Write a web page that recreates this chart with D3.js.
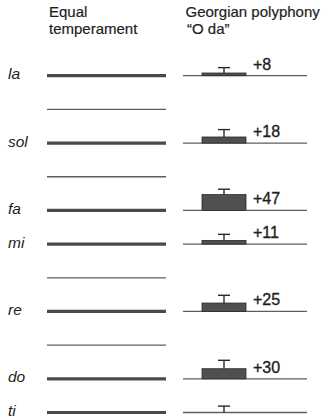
<!DOCTYPE html>
<html>
<head>
<meta charset="utf-8">
<script src="https://cdn.jsdelivr.net/npm/d3@7"></script>
<style>
  html, body { margin: 0; padding: 0; background: #fff; }
  svg { display: block; }
  text { font-family: "Liberation Sans", Arial, Helvetica, sans-serif; fill: #1e1e1e; }
</style>
</head>
<body>
<svg id="chart" width="328" height="420"></svg>
<script>
// Notes of the scale (cents above ti) and Georgian deviations (cents)
const notes = ["ti", "do", "re", "mi", "fa", "sol", "la"];
const noteCents = [0, 100, 300, 500, 600, 800, 1000];
const semitoneCents = [200, 400, 700, 900];
const deviation = [0, 30, 25, 11, 47, 18, 8];
const errorCents = [19, 25, 23, 18, 16, 22, 16];
const deviationLabels = ["", "+30", "+25", "+11", "+47", "+18", "+8"];
const headerLeft = ["Equal", "temperament"];
const headerRight = ["Georgian polyphony", "\u201CO da\u201D"];

const svg = d3.select("#chart");
const y = d3.scaleLinear().domain([0, 1000]).range([412.5, 75.7]);
const xLeft = d3.scaleLinear().domain([0, 1]).range([47, 166]);
const xRight = d3.scaleLinear().domain([0, 1]).range([183, 307]);
const xBar = d3.scaleBand().domain(["bar"]).range([202, 246]);

// Header
svg.selectAll("text.hl").data(headerLeft).join("text")
  .attr("class", "hl")
  .attr("x", 49).attr("y", (d, i) => 17.2 + i * 16.8)
  .style("font-size", "15px").style("stroke", "#1e1e1e").style("stroke-width", 0.2)
  .text(d => d);
svg.selectAll("text.hr").data(headerRight).join("text")
  .attr("class", "hr")
  .attr("x", (d, i) => i === 0 ? 185.5 : 187).attr("y", (d, i) => 17.2 + i * 16.8)
  .style("font-size", "15px").style("stroke", "#1e1e1e").style("stroke-width", 0.2)
  .text(d => d);

// Left: equal temperament lines
svg.selectAll("line.semi").data(semitoneCents).join("line")
  .attr("class", "semi")
  .attr("x1", xLeft(0)).attr("x2", xLeft(1))
  .attr("y1", d => y(d)).attr("y2", d => y(d))
  .attr("stroke", "#5e5e5e").attr("stroke-width", 1.3);
svg.selectAll("line.note").data(noteCents).join("line")
  .attr("class", "note")
  .attr("x1", xLeft(0)).attr("x2", xLeft(1))
  .attr("y1", d => y(d)).attr("y2", d => y(d))
  .attr("stroke", "#4a4a4a").attr("stroke-width", 3.2);

// Note names
svg.selectAll("text.name").data(notes).join("text")
  .attr("class", "name")
  .attr("x", 8).attr("y", (d, i) => y(noteCents[i]) + 3.5)
  .style("font-size", "15.5px").style("font-style", "italic")
  .text(d => d);

// Right: Georgian lines
svg.selectAll("line.geo").data(noteCents).join("line")
  .attr("class", "geo")
  .attr("x1", xRight(0)).attr("x2", xRight(1))
  .attr("y1", d => y(d)).attr("y2", d => y(d))
  .attr("stroke", "#5e5e5e").attr("stroke-width", 1.3);

// Bars
const g = svg.append("g");
g.selectAll("rect").data(notes.map((n, i) => ({ n, base: noteCents[i], dev: deviation[i] })).filter(d => d.dev > 0))
  .join("rect")
  .attr("x", xBar("bar")).attr("width", xBar.bandwidth())
  .attr("y", d => y(d.base + d.dev)).attr("height", d => y(d.base) - y(d.base + d.dev))
  .attr("fill", "#505050").attr("stroke", "#2a2a2a").attr("stroke-width", 0.8);

// Error whiskers
const cx = xBar("bar") + xBar.bandwidth() / 2;
const errData = notes.map((n, i) => ({ base: noteCents[i], dev: deviation[i], err: errorCents[i] }));
g.selectAll("line.whisk").data(errData).join("line")
  .attr("class", "whisk")
  .attr("x1", cx).attr("x2", cx)
  .attr("y1", d => y(d.base + d.dev)).attr("y2", d => y(d.base + d.dev + d.err))
  .attr("stroke", "#2a2a2a").attr("stroke-width", 1.4);
g.selectAll("line.cap").data(errData).join("line")
  .attr("class", "cap")
  .attr("x1", cx - 6).attr("x2", cx + 6)
  .attr("y1", d => y(d.base + d.dev + d.err)).attr("y2", d => y(d.base + d.dev + d.err))
  .attr("stroke", "#2a2a2a").attr("stroke-width", 1.4);

// Deviation labels
svg.selectAll("text.dev").data(deviationLabels).join("text")
  .attr("class", "dev")
  .attr("x", 253).attr("y", (d, i) => y(noteCents[i]) - 6)
  .style("font-size", "16px")
  .style("stroke", "#1e1e1e").style("stroke-width", 0.35)
  .text(d => d);
</script>
</body>
</html>
